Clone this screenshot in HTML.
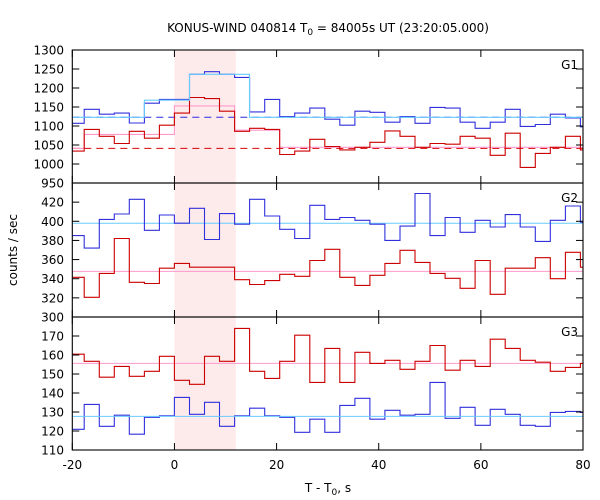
<!DOCTYPE html>
<html><head><meta charset="utf-8"><style>
body{margin:0;background:#fff;}
svg{display:block;font-family:"DejaVu Sans","Liberation Sans",sans-serif;}
</style></head><body>
<svg id="chart" width="600" height="500" viewBox="0 0 600 500" xmlns="http://www.w3.org/2000/svg">
<text x="328" y="32" font-size="12" text-anchor="middle">KONUS-WIND 040814 T<tspan font-size="9" dy="3">0</tspan><tspan dy="-3"> = 84005s UT (23:20:05.000)</tspan></text>
<text x="328" y="492" font-size="12" text-anchor="middle">T - T<tspan font-size="9" dy="3">0</tspan><tspan dy="-3">, s</tspan></text>
<text x="0" y="0" font-size="12" text-anchor="middle" transform="translate(17,250) rotate(-90)">counts / sec</text>
<g id="plot"></g>
</svg>
<script>
const binWidth = 2.944;
const binStartIndex = -7;
const xTicks = [-20, 0, 20, 40, 60, 80];
const shadeRange = [0, 12];

const g1Blue = [1107,1144,1131,1134,1108,1160,1170,1170,1236,1243,1236,1228,1137,1170,1125,1134,1147,1118,1102,1139,1136,1110,1125,1107,1149,1147,1110,1094,1110,1144,1099,1104,1131,1121,1098];
const g1Red = [1034,1091,1073,1054,1086,1068,1102,1134,1175,1172,1139,1086,1094,1091,1025,1034,1065,1046,1037,1044,1057,1087,1073,1044,1054,1052,1073,1068,1023,1081,991,1028,1044,1073,1037];
const g1CyanEdges = [-20.6, -5.89, 2.94, 14.7, 82.4];
const g1CyanVals = [1123, 1168, 1236, 1123];
const g1PinkEdges = [-20.6, -17.66, 0, 11.78, 20.6, 82.4];
const g1PinkVals = [1041, 1078, 1153, 1089, 1044];
const g1BlueDash = 1123;
const g1RedDash = 1041;
const g1Ticks = [950,1000,1050,1100,1150,1200,1250,1300];

const g2Blue = [385,372,402,407.6,423,390.6,406.6,398,413.6,381,408,397,423,405.5,391.6,382,416.7,402,404,401,397,380,395,429,385,404,388.5,401,394,407,394,379,401,416,399];
const g2Red = [341.5,320.6,345.6,382,336.3,335,351,356,352,352,352,339,334,338,344.6,342.5,359,370.7,341.5,333,343.6,356,369.7,357,345.6,340.4,330,359,323.7,351,351,362,340,367.6,352];
const g2Cyan = 398;
const g2Pink = 347.7;
const g2Ticks = [300,320,340,360,380,400,420];

const g3Red = [160.4,156.7,148.3,154,148.8,151.4,159.3,146.7,144.6,159.3,156.7,174,151.4,147.7,156.7,170.4,145.6,163.5,145.6,161.4,155.6,157.2,152.5,156.7,165,152,157.2,154,168.3,163.5,157.2,156.2,151.4,153.5,155.6];
const g3Blue = [120.9,134,122.5,128.3,118.3,127.2,128,137.7,128.8,135.1,122.5,128,132,128,127.2,119.3,126.2,119.3,133.5,137.2,126.2,130.9,128.3,128.8,145.6,126.7,132.5,123,131.4,128.8,123,122.5,129.8,130.3,129.8];
const g3Cyan = 127.7;
const g3Pink = 155.6;
const g3Ticks = [110,120,130,140,150,160,170];

const NS = "http://www.w3.org/2000/svg";
const L = 72.3, R = 583;
const X = v => L + (v - (-20)) / 100 * (R - L);
const root = document.getElementById('plot');
function el(tag, attrs, parent) {
  const e = document.createElementNS(NS, tag);
  for (const k in attrs) e.setAttribute(k, attrs[k]);
  (parent || root).appendChild(e);
  return e;
}
function clipX(x){return Math.max(L, Math.min(R, x));}

const panels = [
  {name:'g1', top:50, bot:183, min:950, max:1300, ticks:g1Ticks, label:'G1'},
  {name:'g2', top:183, bot:317, min:300, max:440, ticks:g2Ticks, label:'G2'},
  {name:'g3', top:317, bot:450, min:110, max:180, ticks:g3Ticks, label:'G3'}
];
panels.forEach(p => { p.Y = v => p.bot - (v - p.min) / (p.max - p.min) * (p.bot - p.top); });

const sh = el('rect', {x:X(shadeRange[0]), y:50, width:X(shadeRange[1])-X(shadeRange[0]), height:400, fill:'#fdeaea'});



function stepPath(vals, Y) {
  let d = '';
  vals.forEach((v, i) => {
    const x0 = clipX(X((binStartIndex + i) * binWidth));
    const x1 = clipX(X((binStartIndex + i + 1) * binWidth));
    const y = Y(v).toFixed(1);
    d += (i === 0 ? 'M' : 'L') + x0.toFixed(1) + ',' + y + 'L' + x1.toFixed(1) + ',' + y;
  });
  return d;
}
function stepEdges(edges, vals, Y) {
  let d = '';
  vals.forEach((v, i) => {
    const y = Y(v).toFixed(1);
    d += (i === 0 ? 'M' : 'L') + clipX(X(edges[i])).toFixed(1) + ',' + y + 'L' + clipX(X(edges[i+1])).toFixed(1) + ',' + y;
  });
  return d;
}
function hline(v, Y, color, dash, name) {
  const a = {x1:L, x2:R, y1:Y(v), y2:Y(v), stroke:color, 'stroke-width':1};
  if (dash) a['stroke-dasharray'] = dash;
  const e = el('line', a);
  
  
}
function series(d, color, name) {
  const e = el('path', {d:d, fill:'none', stroke:color, 'stroke-width':1.1});
  
  
}

const P1 = panels[0], P2 = panels[1], P3 = panels[2];
hline(g1BlueDash, P1.Y, '#2a2adf', '7,5', 'g1-blue-mean-dashed');
hline(g1RedDash, P1.Y, '#dd0000', '7,5', 'g1-red-mean-dashed');
series(stepEdges(g1PinkEdges, g1PinkVals, P1.Y), '#ff99cc', 'g1-pink-coarse');
series(stepPath(g1Red, P1.Y), '#cc0000', 'g1-red-series');
series(stepPath(g1Blue, P1.Y), '#3030dd', 'g1-blue-series');
series(stepEdges(g1CyanEdges, g1CyanVals, P1.Y), '#66ccff', 'g1-cyan-coarse');
hline(g2Cyan, P2.Y, '#66ccff', null, 'g2-cyan-background');
hline(g2Pink, P2.Y, '#ff99cc', null, 'g2-pink-background');
series(stepPath(g2Red, P2.Y), '#cc0000', 'g2-red-series');
series(stepPath(g2Blue, P2.Y), '#3030dd', 'g2-blue-series');
hline(g3Pink, P3.Y, '#ff99cc', null, 'g3-pink-background');
series(stepPath(g3Red, P3.Y), '#cc0000', 'g3-red-series');
series(stepPath(g3Blue, P3.Y), '#3030dd', 'g3-blue-series');
hline(g3Cyan, P3.Y, '#66ccff', null, 'g3-cyan-background');

panels.forEach(p => {
  const fr = el('rect', {x:L, y:p.top, width:R-L, height:p.bot-p.top, fill:'none', stroke:'#000', 'stroke-width':1.1});
  
  
  p.ticks.forEach(t => {
    const y = p.Y(t);
    el('line', {x1:L, x2:L+7, y1:y, y2:y, stroke:'#000', 'stroke-width':1});
    el('line', {x1:R-7, x2:R, y1:y, y2:y, stroke:'#000', 'stroke-width':1});
    const tx = el('text', {x:64, y:y+4.5, 'font-size':12, 'text-anchor':'end'});
    
    
    tx.textContent = t;
  });
  xTicks.forEach(t => {
    const x = X(t);
    el('line', {x1:x, x2:x, y1:p.top, y2:p.top+7, stroke:'#000', 'stroke-width':1});
    el('line', {x1:x, x2:x, y1:p.bot-7, y2:p.bot, stroke:'#000', 'stroke-width':1});
  });
  const lb = el('text', {x:578, y:p.top+19, 'font-size':12, 'text-anchor':'end'});
  
  
  lb.textContent = p.label;
});
xTicks.forEach(t => {
  const tx = el('text', {x:X(t), y:469, 'font-size':12, 'text-anchor':'middle'});
  
  
  tx.textContent = t;
});
</script>
</body></html>
